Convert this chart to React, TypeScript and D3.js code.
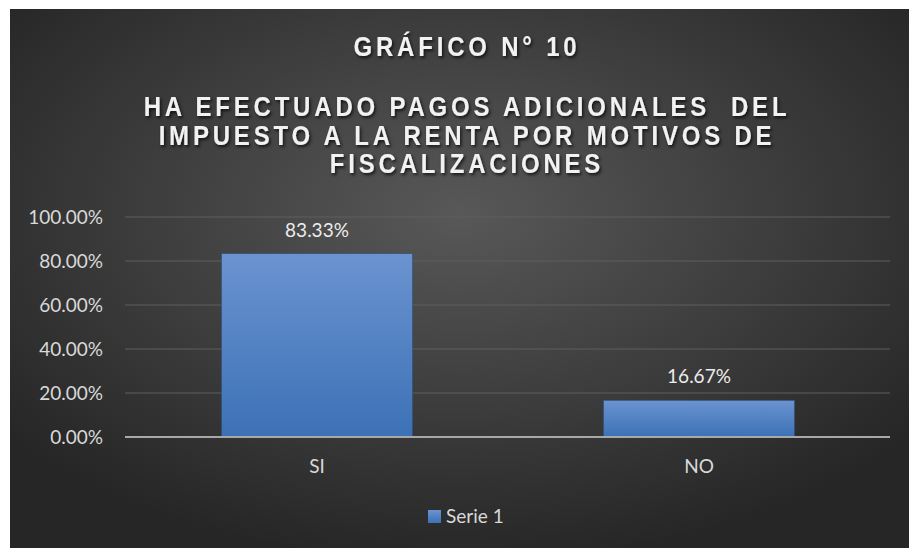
import { useEffect, useRef } from 'react';
import * as d3 from 'd3';

const categories = ['SI', 'NO'];
const serie1 = [0.8333, 0.1667];
const yTicks = [0, 0.2, 0.4, 0.6, 0.8, 1.0];
const seriesName = 'Serie 1';
const titleLines = ['GRÁFICO N° 10'];
const subtitleLines = [
  'HA EFECTUADO PAGOS ADICIONALES  DEL',
  'IMPUESTO A LA RENTA POR MOTIVOS DE',
  'FISCALIZACIONES',
];

const App = () => {
  const svgRef = useRef<SVGSVGElement>(null);

  useEffect(() => {
    const svg = d3.select(svgRef.current);
    svg.selectAll('*').remove();

    const W = 909;
    const H = 548;
    svg.attr('width', W).attr('height', H);

    const defs = svg.append('defs');
    const bg = defs.append('radialGradient').attr('id', 'bg')
      .attr('cx', '50%').attr('cy', '38%').attr('r', '65%');
    bg.append('stop').attr('offset', '0%').attr('stop-color', '#585858');
    bg.append('stop').attr('offset', '100%').attr('stop-color', '#262626');

    const barGrad = defs.append('linearGradient').attr('id', 'bar')
      .attr('x1', 0).attr('y1', 0).attr('x2', 0).attr('y2', 1);
    barGrad.append('stop').attr('offset', '0%').attr('stop-color', '#6b93d0');
    barGrad.append('stop').attr('offset', '100%').attr('stop-color', '#3c71b6');

    const shadow = defs.append('filter').attr('id', 'shadow')
      .attr('x', '-10%').attr('y', '-30%').attr('width', '120%').attr('height', '160%');
    shadow.append('feDropShadow').attr('dx', 1.5).attr('dy', 2).attr('stdDeviation', 1.5)
      .attr('flood-color', '#000').attr('flood-opacity', 0.7);

    // background
    svg.append('rect').attr('x', 10).attr('y', 9)
      .attr('width', W - 10).attr('height', H - 9).attr('fill', 'url(#bg)');

    // titles (slightly tall glyphs, wide tracking)
    const cx = 467;
    const titleFont = "'Liberation Sans', Arial, sans-serif";
    svg.append('g').attr('filter', 'url(#shadow)')
      .selectAll('text')
      .data([...titleLines, ...subtitleLines])
      .join('text')
      .attr('transform', (d, i) => `translate(${cx},${i === 0 ? 56 : 116 + (i - 1) * 28.5}) scale(1,1.15)`)
      .attr('text-anchor', 'middle')
      .attr('font-family', titleFont)
      .attr('font-weight', 'bold')
      .attr('font-size', 24)
      .attr('letter-spacing', 3.8)
      .attr('fill', '#f2f2f2')
      .style('white-space', 'pre')
      .text(d => d);

    // scales
    const x = d3.scaleBand<string>().domain(categories).range([126, 890])
      .paddingInner(0.5).paddingOuter(0.25);
    const y = d3.scaleLinear().domain([0, 1]).range([437, 217]);
    const fmt = d3.format('.2%');
    const labelFont = "Lato, 'Open Sans', sans-serif";

    // gridlines
    svg.append('g').selectAll('line')
      .data(yTicks.filter(t => t > 0))
      .join('line')
      .attr('x1', 125).attr('x2', 890)
      .attr('y1', d => y(d)).attr('y2', d => y(d))
      .attr('stroke', '#5e5e5e').attr('stroke-width', 1);

    // y tick labels
    svg.append('g').selectAll('text')
      .data(yTicks)
      .join('text')
      .attr('x', 103)
      .attr('y', d => y(d) + 7)
      .attr('text-anchor', 'end')
      .attr('font-family', labelFont)
      .attr('font-size', 19)
      .attr('fill', '#d9d9d9')
      .text(d => fmt(d));

    // bars
    const data = categories.map((c, i) => ({ c, v: serie1[i] }));
    svg.append('g').selectAll('rect')
      .data(data)
      .join('rect')
      .attr('x', d => x(d.c)!)
      .attr('y', d => y(d.v))
      .attr('width', x.bandwidth())
      .attr('height', d => y(0) - y(d.v))
      .attr('fill', 'url(#bar)')
      .attr('stroke', '#2f4f78').attr('stroke-width', 0.6);

    // x axis line
    svg.append('line')
      .attr('x1', 125).attr('x2', 890)
      .attr('y1', y(0)).attr('y2', y(0))
      .attr('stroke', '#a8a8a8').attr('stroke-width', 2);

    // data labels
    svg.append('g').selectAll('text')
      .data(data)
      .join('text')
      .attr('x', d => x(d.c)! + x.bandwidth() / 2)
      .attr('y', d => y(d.v) - 17)
      .attr('text-anchor', 'middle')
      .attr('font-family', labelFont)
      .attr('font-size', 19)
      .attr('fill', '#ececec')
      .text(d => fmt(d.v));

    // category labels
    svg.append('g').selectAll('text')
      .data(categories)
      .join('text')
      .attr('x', d => x(d)! + x.bandwidth() / 2)
      .attr('y', 473)
      .attr('text-anchor', 'middle')
      .attr('font-family', labelFont)
      .attr('font-size', 19)
      .attr('fill', '#d9d9d9')
      .text(d => d);

    // legend
    const legend = svg.append('g').attr('transform', 'translate(428,510)');
    legend.append('rect').attr('width', 13).attr('height', 13).attr('fill', 'url(#bar)');
    legend.append('text').attr('x', 18).attr('y', 13)
      .attr('font-family', labelFont).attr('font-size', 19).attr('fill', '#d9d9d9')
      .text(seriesName);
  }, []);

  return (
    <svg ref={svgRef} style={{ position: 'absolute', left: 0, top: 0, background: '#fff' }}></svg>
  );
};

export default App;
